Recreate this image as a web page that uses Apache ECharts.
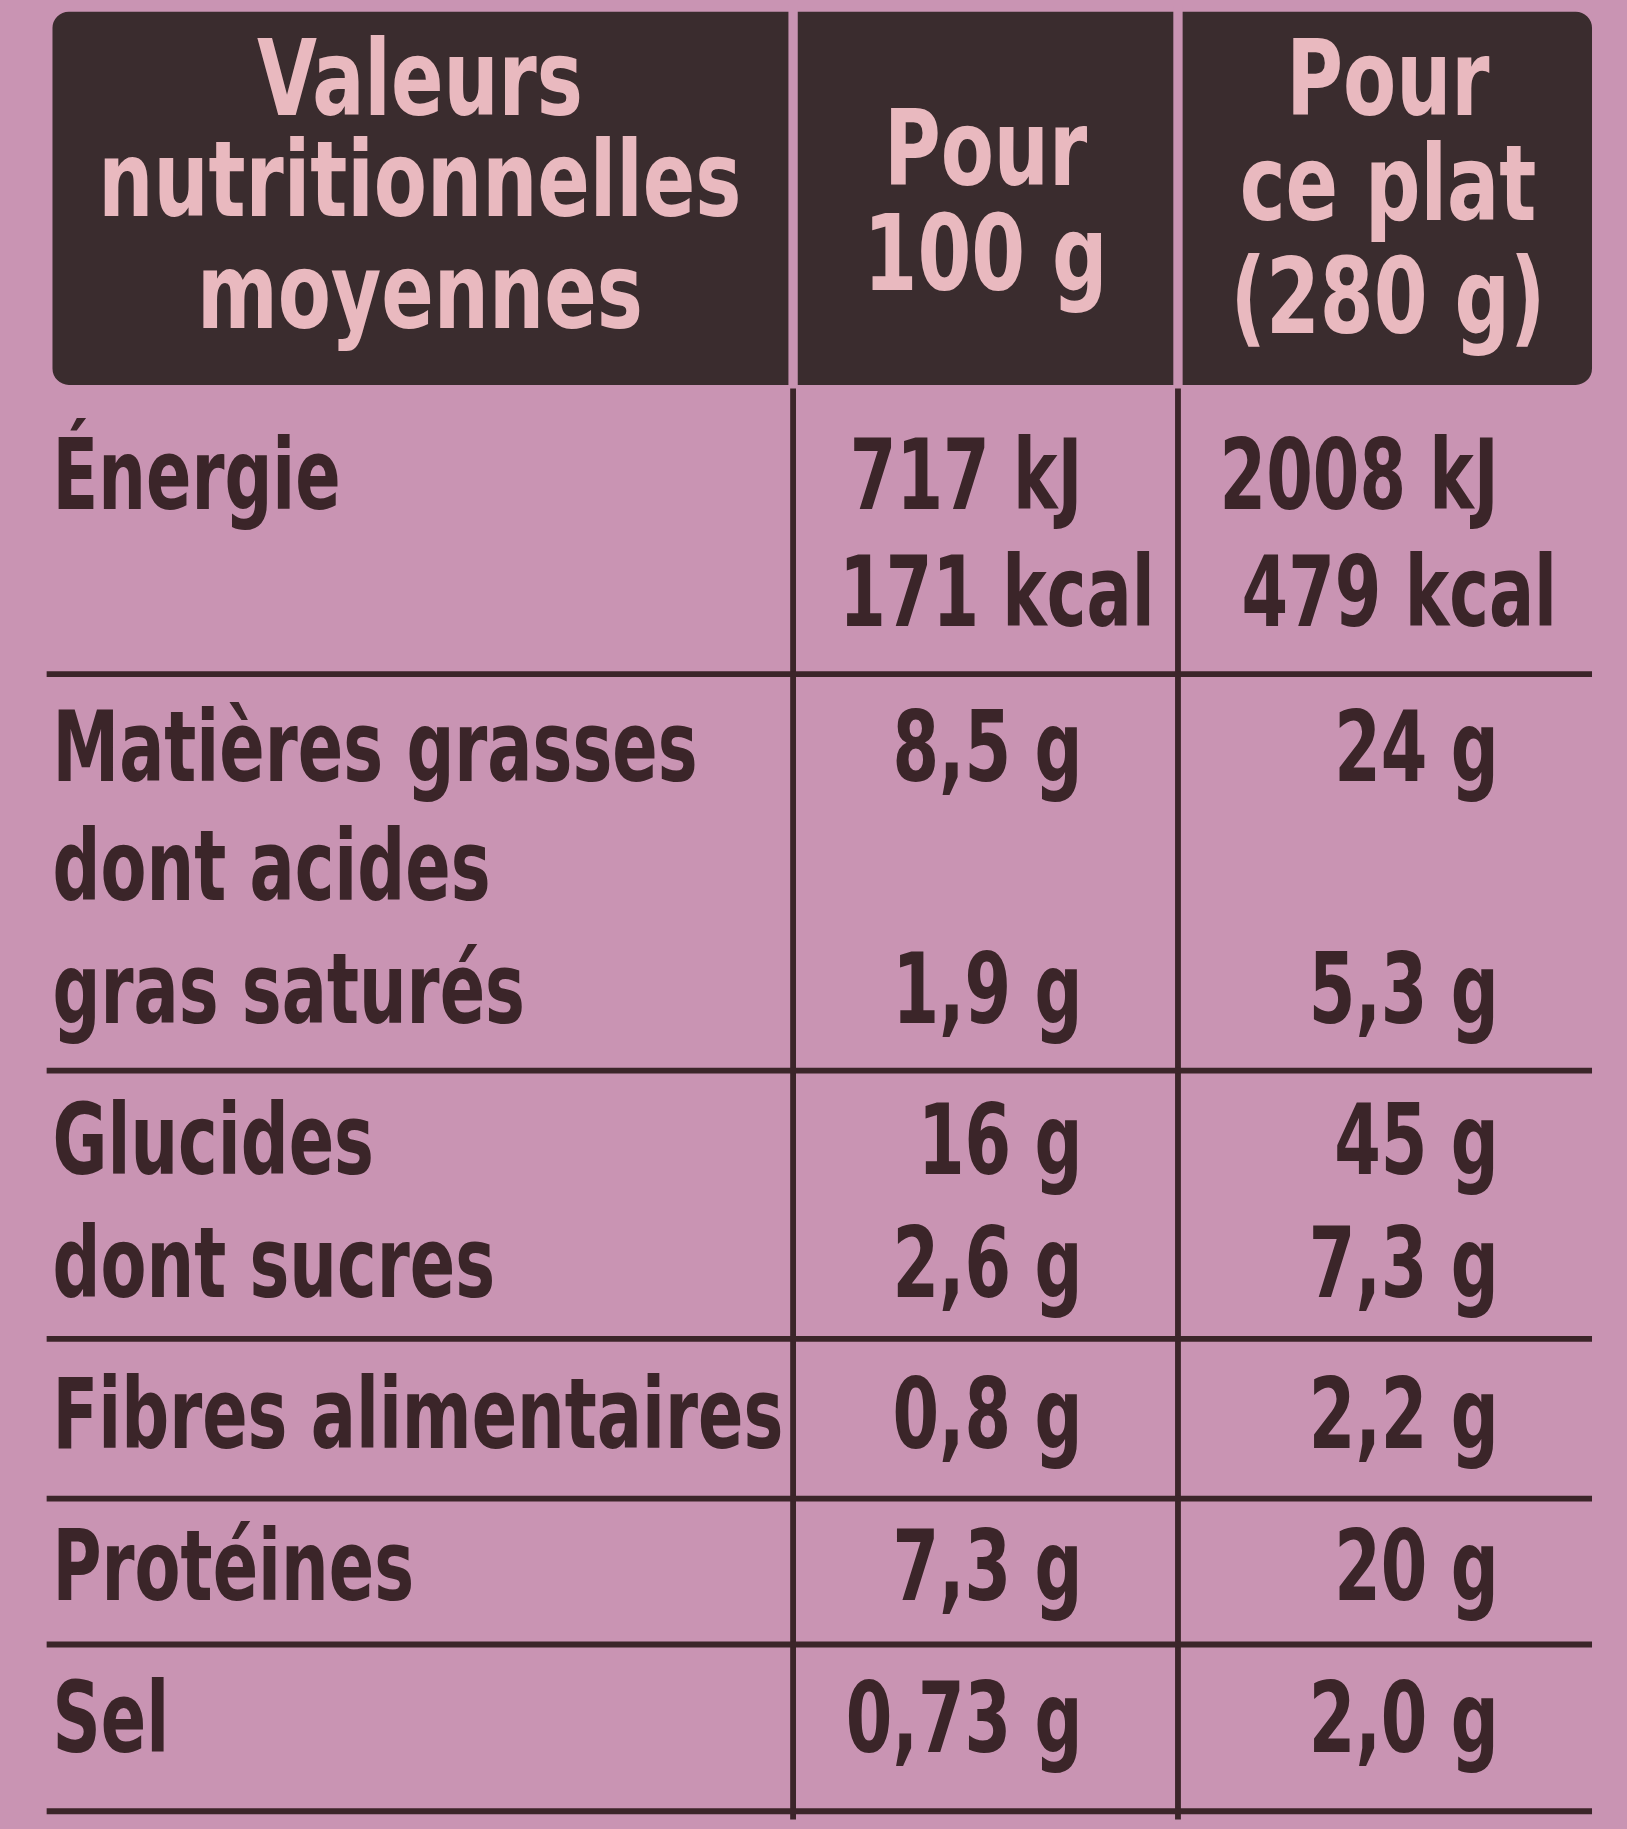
<!DOCTYPE html>
<html><head><meta charset="utf-8">
<script src="https://cdn.jsdelivr.net/npm/echarts@6/dist/echarts.min.js"></script>
<style>html,body{margin:0;padding:0;background:#c994b3}#c{width:1627px;height:1829px}</style>
</head><body><div id="c"></div>
<script>
const headerCols = [["Valeurs","nutritionnelles","moyennes"],["Pour","100 g"],["Pour","ce plat","(280 g)"]];
const labels = ["Énergie","","Matières grasses","dont acides","gras saturés","Glucides","dont sucres","Fibres alimentaires","Protéines","Sel"];
const per100 = ["717 kJ","171 kcal","8,5 g","","1,9 g","16 g","2,6 g","0,8 g","7,3 g","0,73 g"];
const perDish = ["2008 kJ","479 kcal","24 g","","5,3 g","45 g","7,3 g","2,2 g","20 g","2,0 g"];
const rowY = [415,515,648,750,855,985,1090,1220,1350,1480];
const sepY = [578,918,1148,1285,1410,1553];

const s = 1627/1395;
const chart = echarts.init(document.getElementById('c'));
const g = [];
const dark = '#3b2529', pinkTxt = '#e9b9bf';
const font = '"DejaVu Sans Condensed", sans-serif';
g.push({type:'rect',shape:{x:45*s,y:10*s,width:1320*s,height:320*s,r:14*s},style:{fill:'#3a2c2e'}});
[680,1010].forEach(x=>{
  g.push({type:'rect',shape:{x:(x-4)*s,y:5*s,width:8*s,height:328*s},style:{fill:'#c994b3'}});
  g.push({type:'line',shape:{x1:x*s,y1:333*s,x2:x*s,y2:1560*s},style:{stroke:dark,lineWidth:5*s}});
});
const hx=[360,845,1190], hy=[[75,162,258],[135,225],[75,165,262]];
headerCols.forEach((col,i)=>col.forEach((t,j)=>g.push({type:'text',x:hx[i]*s,y:hy[i][j]*s,scaleX:0.82,style:{text:t,fill:pinkTxt,font:`bold ${90*s}px ${font}`,align:'center',verticalAlign:'middle'}})));
sepY.forEach(y=>g.push({type:'line',shape:{x1:40*s,y1:y*s,x2:1365*s,y2:y*s},style:{stroke:dark,lineWidth:5*s}}));
const tf = `bold ${84*s}px ${font}`, sx=0.76;
labels.forEach((t,i)=>{ if(t) g.push({type:'text',x:45*s,y:rowY[i]*s,scaleX:sx,style:{text:t,fill:dark,font:tf,align:'left',verticalAlign:'middle'}});});
per100.forEach((t,i)=>{ if(t) g.push({type:'text',x:(i==1?990:928)*s,y:rowY[i]*s,scaleX:sx,style:{text:t,fill:dark,font:tf,align:'right',verticalAlign:'middle'}});});
perDish.forEach((t,i)=>{ if(t) g.push({type:'text',x:(i==1?1335:1285)*s,y:rowY[i]*s,scaleX:sx,style:{text:t,fill:dark,font:tf,align:'right',verticalAlign:'middle'}});});
chart.setOption({backgroundColor:'#c994b3',graphic:g});
</script></body></html>
